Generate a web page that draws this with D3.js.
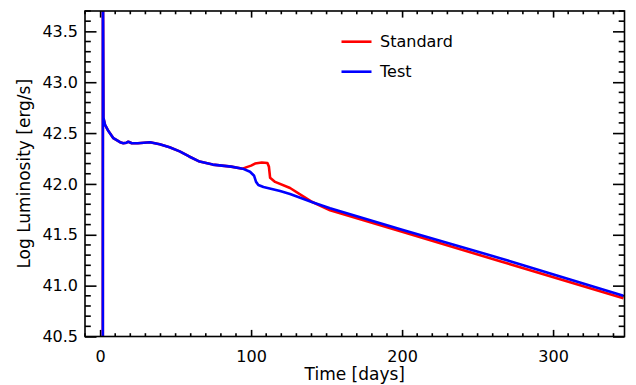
<!DOCTYPE html>
<html>
<head>
<meta charset="utf-8">
<style>
    body { margin: 0; background: #fff; }
    text { font-family: "DejaVu Sans", sans-serif; fill: #000; }
</style>
</head>
<body>
<script src="https://d3js.org/d3.v7.min.js"></script>
<script>

    // values
    var stdTime = [1.8, 1.85, 2.0, 2.2, 3.3, 5.5, 8.8, 13.2, 15.4, 17.5, 18.7, 21, 25, 33, 39.5, 46, 52.7, 59, 65.9, 74.6, 86.8, 94.4,
                   97.1, 100, 102.6, 107.1, 110.8, 111.8, 112.6, 115.9, 125.8, 139.5, 152.3, 200, 264.9, 346.6];
    var stdLum  = [39.5, 44.2, 43.6, 42.65, 42.58, 42.52, 42.45, 42.41, 42.40, 42.405, 42.415, 42.40, 42.40, 42.41, 42.39, 42.36, 42.32, 42.27, 42.22, 42.19, 42.17, 42.15,
                   42.165, 42.18, 42.20, 42.21, 42.205, 42.17, 42.06, 42.02, 41.96, 41.83, 41.74, 41.53, 41.24, 40.876];

    var testTime = [1.8, 1.85, 2.0, 2.2, 3.3, 5.5, 8.8, 13.2, 15.4, 17.5, 18.7, 21, 25, 33, 39.5, 46, 52.7, 59, 65.9, 74.6, 86.8, 94.4,
                    99.3, 102, 103.3, 104.8, 108.2, 119.2, 125.8, 140.6, 152.3, 200, 264.9, 346.6];
    var testLum  = [39.5, 44.2, 43.6, 42.65, 42.58, 42.52, 42.45, 42.41, 42.40, 42.405, 42.415, 42.40, 42.40, 42.41, 42.39, 42.36, 42.32, 42.27, 42.22, 42.19, 42.17, 42.15,
                    42.12, 42.08, 42.02, 41.99, 41.97, 41.93, 41.90, 41.82, 41.76, 41.55, 41.27, 40.90];

    var xTicks = [0, 100, 200, 300];
    var yTicks = [40.5, 41.0, 41.5, 42.0, 42.5, 43.0, 43.5];
    var seriesNames = ["Standard", "Test"];
    var seriesColors = ["#ff0000", "#0000ff"];

    // note: "top" is reserved on window, so the frame edges get their own names
    var width = 636,
        height = 385,
        pLeft = 85, pRight = 624.5, pTop = 11, pBottom = 336.5;

    var x = d3.scaleLinear().domain([-10, 347.3]).range([pLeft, pRight]);
    var y = d3.scaleLinear().domain([40.5, 43.7]).range([pBottom, pTop]);

    var svg = d3.select("body").append("svg")
        .attr("width", width)
        .attr("height", height);

    svg.append("defs").append("clipPath").attr("id", "plot")
        .append("rect")
        .attr("x", pLeft).attr("y", pTop)
        .attr("width", pRight - pLeft).attr("height", pBottom - pTop);

    // minor tick positions: every 10 days, every 0.1 dex
    var xMinor = d3.range(-10, 348, 10).filter(function (d) { return xTicks.indexOf(d) < 0; });
    var yMinor = d3.range(405, 438, 1)
        .filter(function (d) { return d % 5 !== 0; })
        .map(function (d) { return d / 10; });

    // bottom and top axes (ticks mirrored, labels only on bottom / left)
    var xAxisB = d3.axisBottom(x).tickValues(xTicks).tickFormat(d3.format("d")).tickSizeInner(-6.6).tickSizeOuter(0).tickPadding(14);
    var xAxisT = d3.axisTop(x).tickValues(xTicks).tickFormat("").tickSizeInner(-6.6).tickSizeOuter(0);
    var yAxisL = d3.axisLeft(y).tickValues(yTicks).tickFormat(d3.format(".1f")).tickSizeInner(-11.5).tickSizeOuter(0).tickPadding(7);
    var yAxisR = d3.axisRight(y).tickValues(yTicks).tickFormat("").tickSizeInner(-11.5).tickSizeOuter(0);

    function styleAxis(g) {
        g.select(".domain").remove();
        g.selectAll(".tick line").attr("stroke", "#000").attr("stroke-width", 1.6);
        g.selectAll(".tick text").attr("font-size", 16).attr("fill", "#000")
            .style("font-family", "'DejaVu Sans', sans-serif");
    }

    svg.append("g").attr("transform", "translate(0," + pBottom + ")").call(xAxisB).call(styleAxis);
    svg.append("g").attr("transform", "translate(0," + pTop + ")").call(xAxisT).call(styleAxis);
    svg.append("g").attr("transform", "translate(" + pLeft + ",0)").call(yAxisL).call(styleAxis);
    svg.append("g").attr("transform", "translate(" + pRight + ",0)").call(yAxisR).call(styleAxis);

    // minor ticks
    var minor = svg.append("g").attr("stroke", "#000").attr("stroke-width", 1.6);
    xMinor.forEach(function (d) {
        minor.append("line").attr("x1", x(d)).attr("x2", x(d)).attr("y1", pBottom).attr("y2", pBottom - 3.3);
        minor.append("line").attr("x1", x(d)).attr("x2", x(d)).attr("y1", pTop).attr("y2", pTop + 3.3);
    });
    yMinor.forEach(function (d) {
        minor.append("line").attr("x1", pLeft).attr("x2", pLeft + 5.8).attr("y1", y(d)).attr("y2", y(d));
        minor.append("line").attr("x1", pRight).attr("x2", pRight - 5.8).attr("y1", y(d)).attr("y2", y(d));
    });

    // curves
    var line = d3.line()
        .x(function (d) { return x(d[0]); })
        .y(function (d) { return y(d[1]); });

    var curves = [d3.zip(stdTime, stdLum), d3.zip(testTime, testLum)];
    svg.append("g").attr("clip-path", "url(#plot)")
        .selectAll("path")
        .data(curves)
        .join("path")
        .attr("d", line)
        .attr("fill", "none")
        .attr("stroke", function (d, i) { return seriesColors[i]; })
        .attr("stroke-width", 2.6)
        .attr("stroke-linejoin", "round");

    // frame
    svg.append("rect")
        .attr("x", pLeft).attr("y", pTop)
        .attr("width", pRight - pLeft).attr("height", pBottom - pTop)
        .attr("fill", "none").attr("stroke", "#000").attr("stroke-width", 1.6);

    // legend
    var legend = svg.append("g").selectAll("g")
        .data(seriesNames)
        .join("g")
        .attr("transform", function (d, i) { return "translate(341.5," + (41.7 + i * 30) + ")"; });
    legend.append("line")
        .attr("x1", 0).attr("x2", 30)
        .attr("stroke", function (d, i) { return seriesColors[i]; })
        .attr("stroke-width", 2.6);
    legend.append("text")
        .attr("x", 38.5).attr("y", 5.5)
        .attr("font-size", 16)
        .text(function (d) { return d; });

    // axis titles
    svg.append("text")
        .attr("x", (pLeft + pRight) / 2).attr("y", 380)
        .attr("text-anchor", "middle")
        .attr("font-size", 17)
        .text("Time [days]");

    svg.append("text")
        .attr("transform", "translate(30," + ((pTop + pBottom) / 2) + ") rotate(-90)")
        .attr("text-anchor", "middle")
        .attr("font-size", 17)
        .text("Log Luminosity [erg/s]");
</script>
</body>
</html>
